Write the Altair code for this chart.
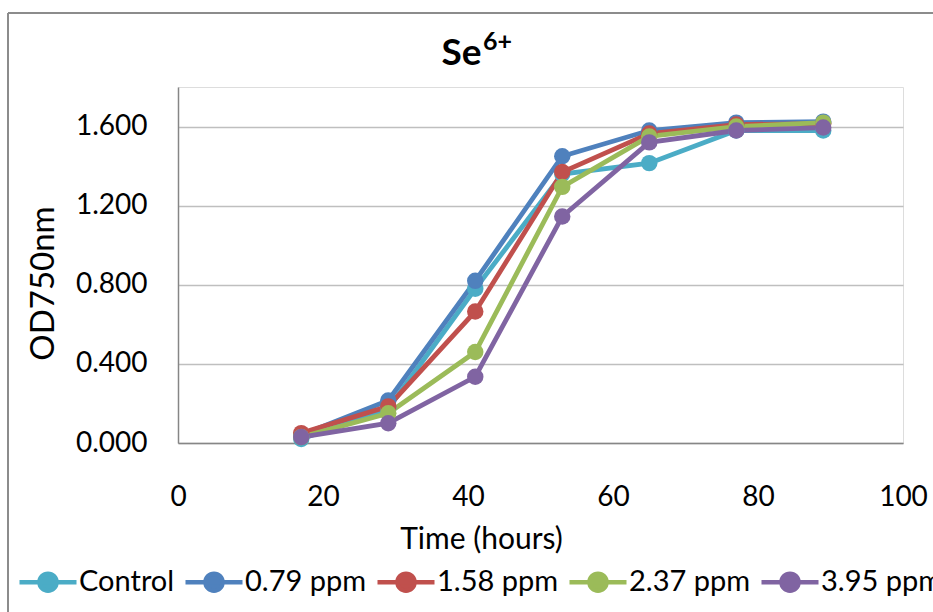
import altair as alt
import pandas as pd

time_h = [17, 29, 41, 53, 65, 77, 89]
series_names = ["Control", "0.79 ppm", "1.58 ppm", "2.37 ppm", "3.95 ppm"]
control = [0.02, 0.175, 0.78, 1.36, 1.415, 1.58, 1.58]
ppm_079 = [0.04, 0.215, 0.82, 1.45, 1.58, 1.62, 1.625]
ppm_158 = [0.05, 0.185, 0.665, 1.37, 1.565, 1.61, 1.615]
ppm_237 = [0.03, 0.15, 0.46, 1.295, 1.55, 1.60, 1.62]
ppm_395 = [0.03, 0.10, 0.335, 1.145, 1.52, 1.58, 1.595]
colors = ["#4BACC6", "#4F81BD", "#C0504D", "#9BBB59", "#8064A2"]
y_ticks = [0, 0.4, 0.8, 1.2, 1.6]
x_ticks = [0, 20, 40, 60, 80, 100]
title_main = "Se"
title_sup = "6+"

rows = []
for order, (name, vals) in enumerate(zip(series_names, [control, ppm_079, ppm_158, ppm_237, ppm_395])):
    for t, v in zip(time_h, vals):
        rows.append({"Series": name, "Time": t, "OD": v, "order": order})
df = pd.DataFrame(rows)

FONT = "Lato"
sym_path = "M-1,0L1,0M0.3,0A0.3,0.3,0,1,1,-0.3,0A0.3,0.3,0,1,1,0.3,0"

color = alt.Color(
    "Series:N",
    scale=alt.Scale(domain=series_names, range=colors),
    sort=series_names,
    legend=alt.Legend(
        title=None,
        orient="none",
        direction="horizontal",
        legendX=-161,
        legendY=464,
        symbolType=sym_path,
        symbolSize=3250,
        symbolStrokeWidth=4.5,
        symbolOpacity=1,
        labelFont=FONT,
        labelFontSize=29,
        labelColor="#000000",
        labelOffset=0,
        columnPadding=1,
        labelLimit=300,
    ),
)

x = alt.X(
    "Time:Q",
    scale=alt.Scale(domain=[0, 100], nice=False),
    axis=alt.Axis(
        values=x_ticks, title="Time (hours)", grid=False, ticks=False,
        domainColor="#868686", domainWidth=1.5,
        labelFont=FONT, labelFontSize=28, labelColor="#000000",
        labelBaseline="alphabetic", labelPadding=62, labelFlush=False,
        titleFont=FONT, titleFontSize=30, titleFontWeight="normal", titleColor="#000000",
        titleBaseline="alphabetic", titleX=303, titleY=105, titleAnchor="middle",
    ),
)
y = alt.Y(
    "OD:Q",
    scale=alt.Scale(domain=[0, 1.8], nice=False),
    axis=alt.Axis(
        values=y_ticks, format=".3f", title="OD750nm", ticks=False,
        domainColor="#868686", domainWidth=1.5,
        gridColor="#BFBFBF", gridWidth=1.5,
        labelFont=FONT, labelFontSize=28, labelColor="#000000", labelPadding=31,
        titleFont=FONT, titleFontSize=33, titleFontWeight="normal", titleColor="#000000",
        titleBaseline="alphabetic", titleX=-125, titleY=196, titleAngle=-90,
    ),
)

base = alt.Chart(df).encode(x=x, y=y, color=color, order=alt.Order("order:Q"), detail="Series:N")
lines = base.mark_line(strokeWidth=4.8, clip=False)
points = base.mark_point(filled=True, size=270, opacity=1, clip=False)

border = alt.Chart(pd.DataFrame({"k": [0]})).mark_rule(color="#8C8C8C", strokeWidth=2).encode(
    x=alt.value(-170), y=alt.value(-74), y2=alt.value(560)
)
border_top = alt.Chart(pd.DataFrame({"k": [0]})).mark_rule(color="#8C8C8C", strokeWidth=2).encode(
    x=alt.value(-170), x2=alt.value(800), y=alt.value(-74)
)
sup = alt.Chart(pd.DataFrame({"t": [title_sup]})).mark_text(
    font=FONT, fontSize=25, fontWeight="bold", color="#000000",
    align="left", baseline="alphabetic",
).encode(text="t:N", x=alt.value(305), y=alt.value(-37))

chart = alt.layer(border, border_top, lines, points, sup).properties(
    width=725, height=356,
    title=alt.TitleParams(
        text=title_main, font=FONT, fontSize=37, fontWeight="bold", color="#000000",
        anchor="middle", frame="group", dx=-79, dy=90, baseline="alphabetic", offset=0,
    ),
    autosize=alt.AutoSizeParams(type="none"),
    padding={"left": 178, "top": 87, "right": 30, "bottom": 169},
).configure_view(stroke=None).configure(background="white")

chart.save("out.html", embed_options={"renderer": "svg", "actions": False})
